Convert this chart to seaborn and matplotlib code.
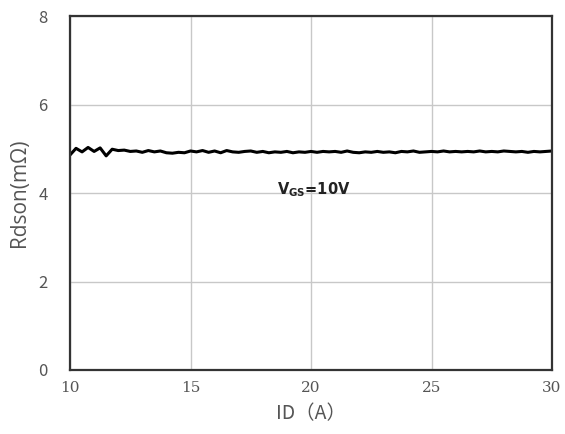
import matplotlib
matplotlib.use("Agg")
import matplotlib.pyplot as plt
import seaborn as sns
import pandas as pd
import numpy as np

id_a = [10.00 + 0.25 * i for i in range(81)]
rdson = [4.86, 5.01, 4.93, 5.03, 4.94, 5.02, 4.84, 4.99, 4.96, 4.97,
         4.94, 4.95, 4.92, 4.96, 4.93, 4.95, 4.91, 4.90, 4.92, 4.91,
         4.95, 4.93, 4.96, 4.92, 4.95, 4.91, 4.96, 4.93, 4.92, 4.94,
         4.95, 4.92, 4.94, 4.91, 4.93, 4.92, 4.94, 4.91, 4.93, 4.92,
         4.94, 4.92, 4.94, 4.93, 4.94, 4.92, 4.95, 4.92, 4.91, 4.93,
         4.92, 4.94, 4.92, 4.93, 4.91, 4.94, 4.93, 4.95, 4.92, 4.93,
         4.94, 4.93, 4.95, 4.93, 4.94, 4.93, 4.94, 4.93, 4.95, 4.93,
         4.94, 4.93, 4.95, 4.94, 4.93, 4.94, 4.92, 4.94, 4.93, 4.94,
         4.95]
x_ticks = [10, 15, 20, 25, 30]
y_ticks = [0, 2, 4, 6, 8]

df = pd.DataFrame({"ID": id_a, "Rdson": rdson})

sns.set_theme(style="white")
plt.rcParams['font.family'] = ['Noto Sans CJK SC', 'DejaVu Sans']

fig = plt.figure(figsize=(5.65, 4.34), dpi=100)
ax = fig.add_axes([0.1239, 0.1475, 0.977 - 0.1239, 0.963 - 0.1475])

ax.grid(True, color="#c8c8c8", linewidth=1.0)
ax.set_axisbelow(True)
sns.lineplot(data=df, x="ID", y="Rdson", ax=ax, color="black", linewidth=2.2)

ax.set_xlim(10, 30)
ax.set_ylim(0, 8)
ax.set_xticks(x_ticks)
ax.set_yticks(y_ticks)
ax.set_xticklabels([str(t) for t in x_ticks], family="DejaVu Serif", color="#555555", fontsize=11)
ax.set_yticklabels([str(t) for t in y_ticks], color="#555555", fontsize=12)
ax.tick_params(axis="x", length=0, pad=8)
ax.tick_params(axis="y", length=0, pad=16)

for s in ax.spines.values():
    s.set_color("#333333")
    s.set_linewidth(1.6)

ax.set_xlabel("ID（A）", color="#555555", fontsize=14, labelpad=6)
ax.set_ylabel("Rdson(mΩ)", color="#555555", fontsize=15, labelpad=6, family=['Open Sans', 'DejaVu Sans'])

ax.text(18.6, 4.08, r"$\mathbf{V_{GS}}$=10V", fontsize=10.5, fontweight="bold",
        color="#222222", ha="left", va="center", family=['DejaVu Sans'])

fig.savefig("out.png", dpi=100)
